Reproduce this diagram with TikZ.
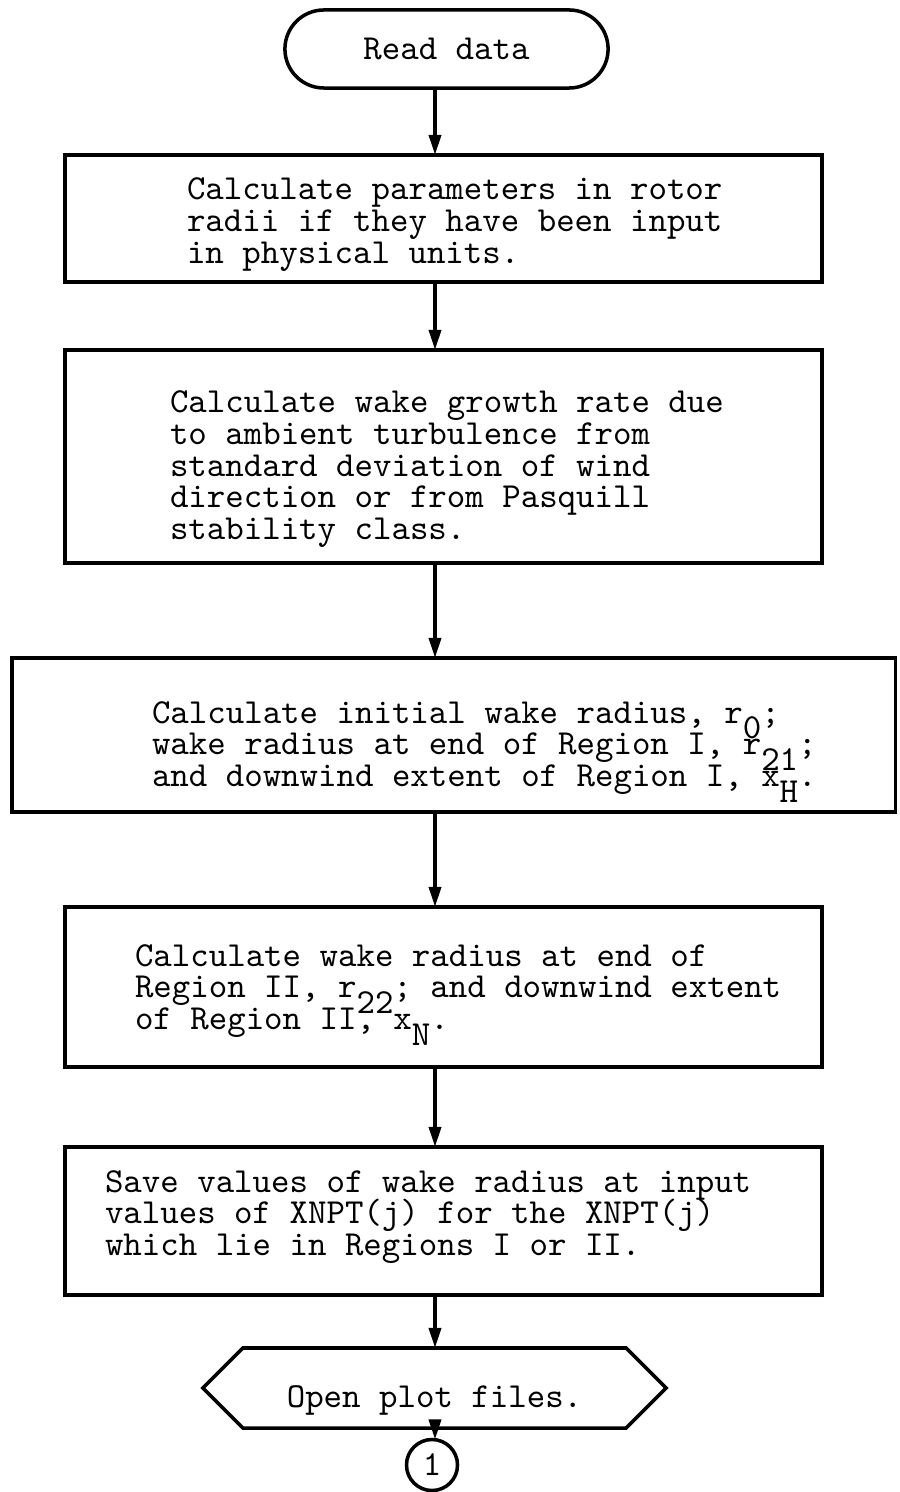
\documentclass[tikz,border=0pt]{standalone}
\usetikzlibrary{arrows.meta}
\newcommand\twlines[1]{\vtop{\lineskiplimit=-\maxdimen #1}}
\newcommand\lowr[1]{\raisebox{-4.5pt}{#1}}
\begin{document}
\begin{tikzpicture}[x=0.01cm,y=-0.01cm,
  every node/.style={inner sep=0pt,outer sep=0pt},
  twfont/.style={font=\ttfamily\fontsize{10}{9}\selectfont\frenchspacing},
  tw/.style={twfont,anchor=base west},
  procbox/.style={draw,line width=1pt,rectangle},
  arr/.style={line width=1pt,-{Triangle[length=0.2cm,width=0.12cm]}},
]
\useasboundingbox (0,0) rectangle (899,1492);
\coordinate (ax) at (435,0);

% terminal
\node[draw,line width=1pt,twfont,rounded corners=0.39cm,minimum width=3.23cm,minimum height=0.78cm] (t) at (446.5,49) {Read data\hspace{0.25cm}};

% process boxes
\node[procbox,minimum width=7.57cm,minimum height=1.27cm] (b1) at (443.5,218.5) {};
\node[procbox,minimum width=7.57cm,minimum height=2.13cm] (b2) at (443.5,456.5) {};
\node[procbox,minimum width=8.83cm,minimum height=1.54cm] (b3) at (453.5,735) {};
\node[procbox,minimum width=7.57cm,minimum height=1.60cm] (b4) at (443.5,987) {};
\node[procbox,minimum width=7.57cm,minimum height=1.48cm] (b5) at (443.5,1221) {};

% texts
\node[tw] (x1) at (187,200) {\twlines{\hbox{Calculate parameters in rotor}\hbox{radii if they have been input}\hbox{in physical units.}}};
\node[tw] (x2) at (170,413) {\twlines{\hbox{Calculate wake growth rate due}\hbox{to ambient turbulence from}\hbox{standard deviation of wind}\hbox{direction or from Pasquill}\hbox{stability class.}}};
\node[tw] (x3) at (152,723) {\twlines{\hbox{Calculate initial wake radius, r\lowr{0};}\hbox{wake radius at end of Region I, r\lowr{21};}\hbox{and downwind extent of Region I, x\lowr{H}.}}};
\node[tw] (x4) at (135,966) {\twlines{\hbox{Calculate wake radius at end of}\hbox{Region II, r\lowr{22}; and downwind extent}\hbox{of Region II, x\lowr{N}.}}};
\node[tw] (x5) at (105,1192) {\twlines{\hbox{Save values of wake radius at input}\hbox{values of XNPT(j) for the XNPT(j)}\hbox{which lie in Regions I or II.}}};

% preparation (hexagon)
\node[twfont,minimum width=3.83cm,minimum height=0.80cm,text height=0.45cm,text depth=0.07cm] (hex) at (434.5,1388) {Open plot files.};
\draw[line width=1pt,line join=miter] (hex.north west) -- (hex.north east) -- ([xshift=0.4cm]hex.east) -- (hex.south east) -- (hex.south west) -- ([xshift=-0.4cm]hex.west) -- cycle;

% connector
\node[draw,circle,line width=1pt,twfont,minimum size=0.51cm] (c1) at (432,1465) {1};

% arrows
\draw[arr] (t.south -| ax) -- (b1.north -| ax);
\draw[arr] (b1.south -| ax) -- (b2.north -| ax);
\draw[arr] (b2.south -| ax) -- (b3.north -| ax);
\draw[arr] (b3.south -| ax) -- (b4.north -| ax);
\draw[arr] (b4.south -| ax) -- (b5.north -| ax);
\draw[arr] (b5.south -| ax) -- (hex.north -| ax);
\draw[arr] (hex.south -| ax) -- (c1.north -| ax);
\end{tikzpicture}
\end{document}
